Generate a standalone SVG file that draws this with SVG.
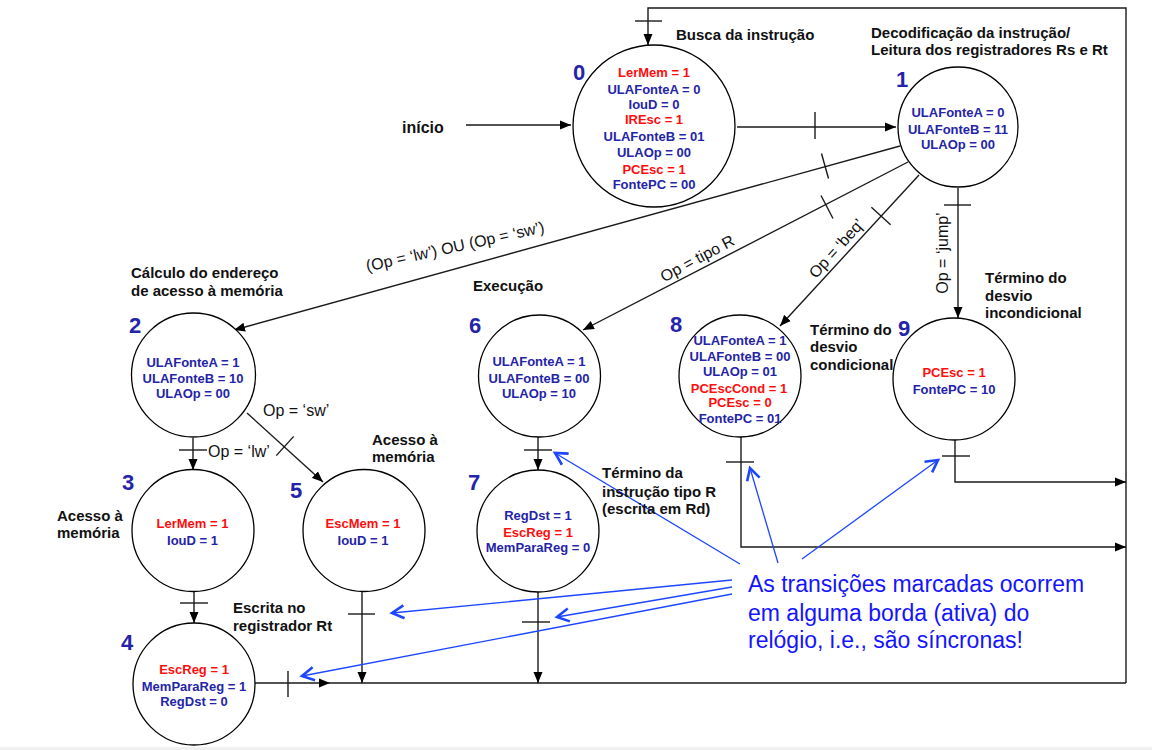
<svg xmlns="http://www.w3.org/2000/svg" width="1152" height="750" viewBox="0 0 1152 750">
<defs>
<marker id="ah" markerUnits="userSpaceOnUse" markerWidth="12" markerHeight="10" refX="11" refY="5" orient="auto"><path d="M0,0.5 L11,5 L0,9.5 z" fill="#000"/></marker>
<marker id="bh" markerUnits="userSpaceOnUse" markerWidth="16" markerHeight="16" refX="13" refY="8" orient="auto"><path d="M1,1.5 L13,8 L1,14.5" fill="none" stroke="#1e46ff" stroke-width="2.6" stroke-linejoin="miter"/></marker>
<style>
.st{fill:#fff;stroke:#000;stroke-width:1.3}
.c{fill:none;stroke:#1a1a1a;stroke-width:1.4}
.a{marker-end:url(#ah)}
.tk{stroke:#1a1a1a;stroke-width:1.4}
.bl{fill:none;stroke:#1e46ff;stroke-width:1.3;marker-end:url(#bh)}
text{font-family:"Liberation Sans",Arial,sans-serif}
.v{font-size:13px;font-weight:bold;text-anchor:middle;fill:#2424a8}
.r{font-size:13px;font-weight:bold;text-anchor:middle;fill:#ff0d0d}
.n{font-size:22px;font-weight:bold;text-anchor:middle;fill:#2424a8}
.lb{font-size:15px;font-weight:bold;fill:#111}
.el{font-size:16px;fill:#111}
.note{font-size:23px;fill:#1414ff}
</style>
</defs>
<rect x="0" y="0" width="1152" height="750" fill="#fff"/>
<rect x="0" y="747" width="1152" height="3" fill="#f0f0f0"/>

<g id="connectors">
<!-- inicio -->
<line class="c a" x1="466" y1="125" x2="571" y2="125"/>
<!-- 0 -> 1 -->
<line class="c a" x1="737" y1="127" x2="896" y2="127"/>
<line class="tk" x1="815" y1="112" x2="815" y2="139"/>
<!-- return loop -->
<polyline class="c a" points="255,683 330,683"/>
<line class="c" x1="330" y1="683" x2="1126" y2="683"/>
<polyline class="c a" points="1126,683 1126,8 648,8 648,45"/>
<line class="tk" x1="635" y1="21" x2="662" y2="21"/>
<line class="tk" x1="288" y1="671" x2="288" y2="697"/>
<!-- 1 -> 2 -->
<line class="c a" x1="900" y1="146" x2="234" y2="330"/>
<line class="tk" x1="821.5" y1="153.5" x2="828.5" y2="178.5"/>
<!-- 1 -> 6 -->
<line class="c a" x1="908" y1="162" x2="583" y2="330"/>
<line class="tk" x1="821" y1="195.5" x2="833" y2="218.5"/>
<!-- 1 -> 8 -->
<line class="c a" x1="919" y1="175" x2="780" y2="326"/>
<line class="tk" x1="871.4" y1="207.2" x2="890.6" y2="224.8"/>
<!-- 1 -> 9 -->
<line class="c a" x1="958" y1="188" x2="958" y2="318"/>
<line class="tk" x1="944" y1="205" x2="971" y2="205"/>
<!-- 2 -> 3 -->
<line class="c a" x1="193" y1="438" x2="193" y2="470"/>
<line class="tk" x1="179" y1="450" x2="207" y2="450"/>
<!-- 2 -> 5 -->
<line class="c a" x1="247" y1="413" x2="323" y2="482"/>
<line class="tk" x1="276.3" y1="455.6" x2="293.7" y2="436.4"/>
<!-- 3 -> 4 -->
<line class="c a" x1="194" y1="591" x2="194" y2="623"/>
<line class="tk" x1="180" y1="603" x2="208" y2="603"/>
<!-- 5 -> loop -->
<line class="c a" x1="362" y1="591" x2="362" y2="683"/>
<line class="tk" x1="348" y1="614" x2="375" y2="614"/>
<!-- 6 -> 7 -->
<line class="c a" x1="538" y1="437" x2="538" y2="470"/>
<line class="tk" x1="524" y1="450" x2="552" y2="450"/>
<!-- 7 -> loop -->
<line class="c a" x1="538" y1="592" x2="538" y2="683"/>
<line class="tk" x1="522" y1="622" x2="550" y2="622"/>
<!-- 8 -> loop -->
<polyline class="c a" points="741,437 741,547 1126,547"/>
<line class="tk" x1="726" y1="462" x2="754" y2="462"/>
<!-- 9 -> loop -->
<polyline class="c a" points="955,440 955,482 1126,482"/>
<line class="tk" x1="942" y1="456" x2="970" y2="456"/>

<!-- edge labels -->
<text class="el" x="208" y="457">Op = ‘lw’</text>
<text class="el" x="263" y="416">Op = ‘sw’</text>
<text class="el" text-anchor="middle" x="455" y="252" transform="rotate(-12.5 455 246)">(Op = ‘lw’) OU (Op = ‘sw’)</text>
<text class="el" text-anchor="middle" x="697" y="264" transform="rotate(-28 697 258)">Op = tipo R</text>
<text class="el" text-anchor="middle" x="836" y="254" transform="rotate(-48 836 248)">Op = ‘beq’</text>
<text class="el" text-anchor="middle" x="942" y="259" transform="rotate(-90 942 253)">Op = ‘jump’</text>

<!-- blue note arrows -->
<line class="bl" x1="732" y1="580" x2="392" y2="613"/>
<line class="bl" x1="732" y1="587" x2="557" y2="617"/>
<line class="bl" x1="732" y1="594" x2="302" y2="676"/>
<line class="bl" x1="740" y1="564" x2="555" y2="453"/>
<line class="bl" x1="778" y1="563" x2="750" y2="468"/>
<line class="bl" x1="802" y1="559" x2="938" y2="460"/>
</g>

<g id="state0">
<circle class="st" cx="654" cy="126" r="81"/>
<text class="n" x="579" y="80">0</text>
<text class="r" x="654" y="76.5">LerMem = 1</text>
<text class="v" x="654" y="94">ULAFonteA = 0</text>
<text class="v" x="654" y="109">IouD = 0</text>
<text class="r" x="654" y="124">IREsc = 1</text>
<text class="v" x="654" y="140.5">ULAFonteB = 01</text>
<text class="v" x="654" y="157">ULAOp = 00</text>
<text class="r" x="654" y="173.5">PCEsc = 1</text>
<text class="v" x="654" y="189">FontePC = 00</text>
</g>

<g id="state1">
<circle class="st" cx="958" cy="127" r="60"/>
<text class="n" x="902" y="87">1</text>
<text class="v" x="958" y="117">ULAFonteA = 0</text>
<text class="v" x="958" y="133.7">ULAFonteB = 11</text>
<text class="v" x="958" y="148.7">ULAOp = 00</text>
</g>

<g id="state2">
<circle class="st" cx="193.5" cy="375" r="62"/>
<text class="n" x="135" y="333">2</text>
<text class="v" x="193" y="366.5">ULAFonteA = 1</text>
<text class="v" x="193" y="382.5">ULAFonteB = 10</text>
<text class="v" x="193" y="398">ULAOp = 00</text>
</g>

<g id="state3">
<circle class="st" cx="193" cy="530.5" r="61"/>
<text class="n" x="128" y="490">3</text>
<text class="r" x="192.5" y="528">LerMem = 1</text>
<text class="v" x="192.5" y="544.7">IouD = 1</text>
</g>

<g id="state5">
<circle class="st" cx="364" cy="530.5" r="61"/>
<text class="n" x="296" y="498">5</text>
<text class="r" x="363" y="528">EscMem = 1</text>
<text class="v" x="363" y="544.7">IouD = 1</text>
</g>

<g id="state4">
<circle class="st" cx="194" cy="684" r="61"/>
<text class="n" x="127" y="650">4</text>
<text class="r" x="194" y="674">EscReg = 1</text>
<text class="v" x="194" y="691.3">MemParaReg = 1</text>
<text class="v" x="194" y="705.5">RegDst = 0</text>
</g>

<g id="state6">
<circle class="st" cx="539.5" cy="376" r="61"/>
<text class="n" x="475" y="333">6</text>
<text class="v" x="539" y="365.5">ULAFonteA = 1</text>
<text class="v" x="539" y="383">ULAFonteB = 00</text>
<text class="v" x="539" y="398">ULAOp = 10</text>
</g>

<g id="state7">
<circle class="st" cx="538" cy="531" r="61"/>
<text class="n" x="474" y="490">7</text>
<text class="v" x="538" y="520.4">RegDst = 1</text>
<text class="r" x="538" y="537">EscReg = 1</text>
<text class="v" x="538" y="552">MemParaReg = 0</text>
</g>

<g id="state8">
<circle class="st" cx="740" cy="376" r="61"/>
<text class="n" x="676" y="332">8</text>
<text class="v" x="740" y="344.7">ULAFonteA = 1</text>
<text class="v" x="740" y="360.7">ULAFonteB = 00</text>
<text class="v" x="740" y="376.4">ULAOp = 01</text>
<text class="r" x="739" y="393">PCEscCond = 1</text>
<text class="r" x="740" y="407.4">PCEsc = 0</text>
<text class="v" x="740" y="423">FontePC = 01</text>
</g>

<g id="state9">
<circle class="st" cx="954" cy="379" r="61"/>
<text class="n" x="904" y="336">9</text>
<text class="r" x="954" y="377">PCEsc = 1</text>
<text class="v" x="954" y="394">FontePC = 10</text>
</g>

<g id="labels">
<text class="lb" x="402" y="133" style="font-size:16px">início</text>
<text class="lb" x="676" y="39.5">Busca da instrução</text>
<text class="lb" x="871" y="37.7">Decodificação da instrução/</text>
<text class="lb" x="871" y="55">Leitura dos registradores Rs e Rt</text>
<text class="lb" x="131" y="277.7">Cálculo do endereço</text>
<text class="lb" x="131" y="295.7">de acesso à memória</text>
<text class="lb" x="473" y="291">Execução</text>
<text class="lb" x="810" y="335">Término do</text>
<text class="lb" x="810" y="352.3">desvio</text>
<text class="lb" x="810" y="370">condicional</text>
<text class="lb" x="985" y="283.3">Término do</text>
<text class="lb" x="985" y="300.7">desvio</text>
<text class="lb" x="985" y="318.3">incondicional</text>
<text class="lb" x="372" y="445">Acesso à</text>
<text class="lb" x="372" y="462">memória</text>
<text class="lb" x="57" y="521">Acesso à</text>
<text class="lb" x="57" y="538">memória</text>
<text class="lb" x="233" y="613.3">Escrita no</text>
<text class="lb" x="233" y="631">registrador Rt</text>
<text class="lb" x="602" y="478">Término da</text>
<text class="lb" x="602" y="496.5">instrução tipo R</text>
<text class="lb" x="602" y="514">(escrita em Rd)</text>
<text class="note" x="748" y="592">As transições marcadas ocorrem</text>
<text class="note" x="748" y="621">em alguma borda (ativa) do</text>
<text class="note" x="748" y="648">relógio, i.e., são síncronas!</text>
</g>
</svg>
